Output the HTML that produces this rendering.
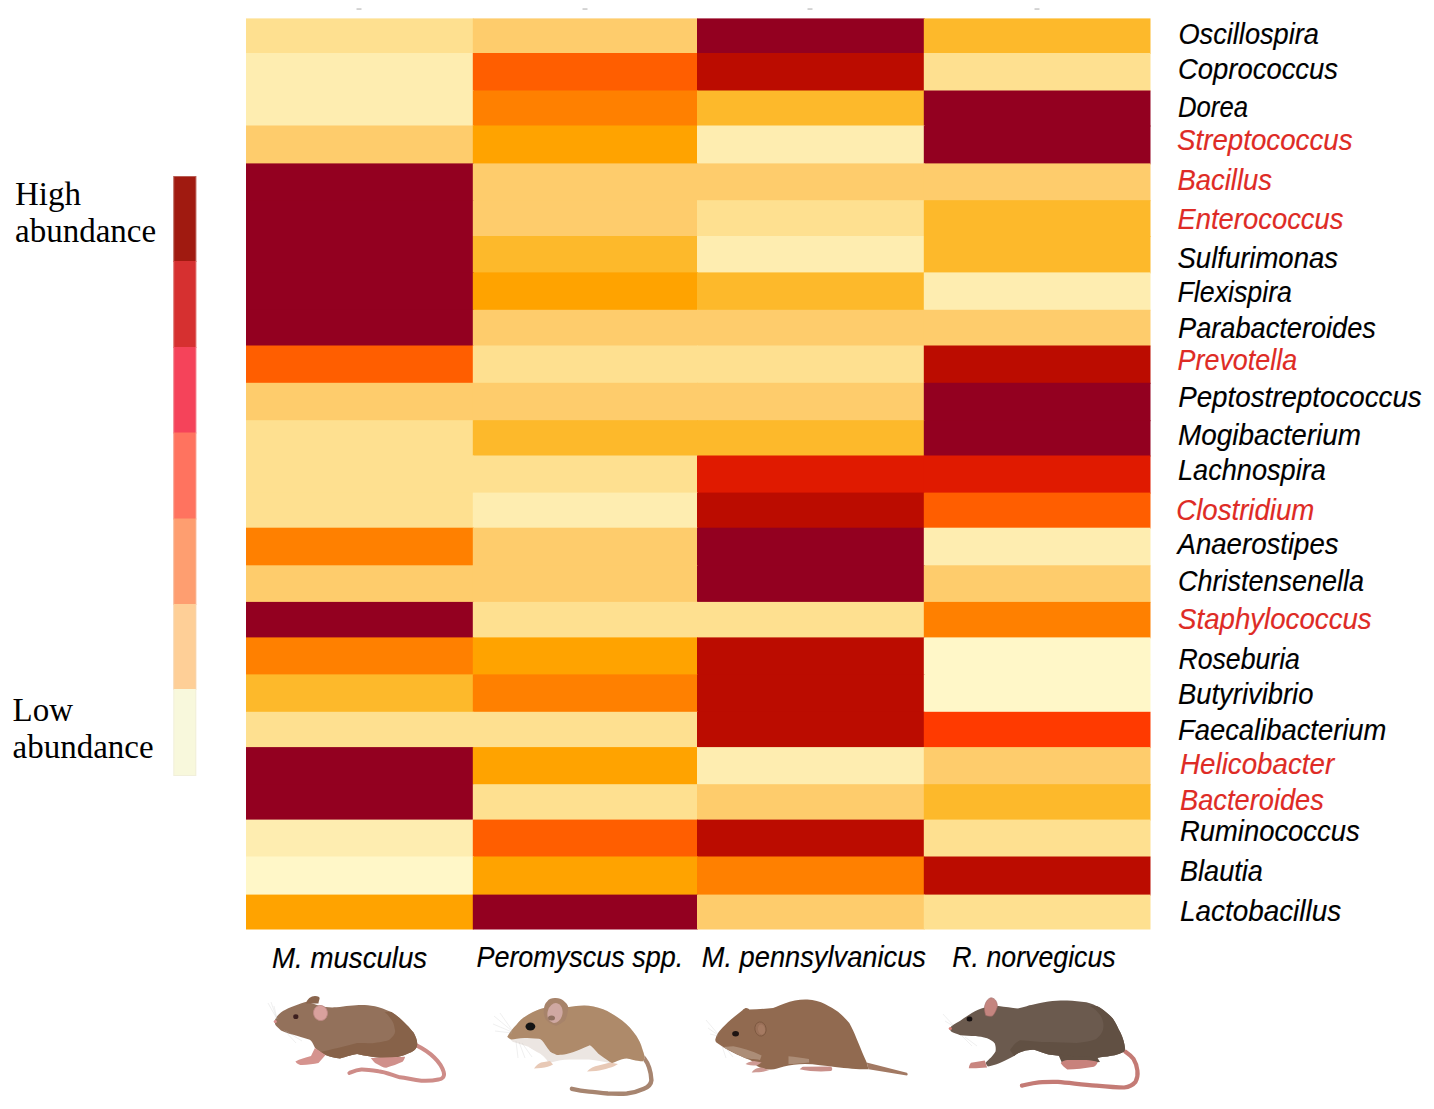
<!DOCTYPE html>
<html><head><meta charset="utf-8"><style>
html,body{margin:0;padding:0;background:#fff;}
body{width:1434px;height:1109px;overflow:hidden;}
svg{display:block;}
.lb{font-family:"Liberation Sans",sans-serif;font-style:italic;font-size:28.6px;stroke-width:0.15px;}
.lg{font-family:"Liberation Serif",serif;font-size:33px;fill:#000;}
</style></head><body>
<svg width="1434" height="1109" viewBox="0 0 1434 1109">
<rect width="1434" height="1109" fill="#fff"/>
<rect x="246" y="18.4" width="227.80" height="35.60" fill="#FEE090"/>
<rect x="472.8" y="18.4" width="225.20" height="35.60" fill="#FECC6C"/>
<rect x="697" y="18.4" width="227.80" height="35.60" fill="#930020"/>
<rect x="923.8" y="18.4" width="226.70" height="35.60" fill="#FDB92B"/>
<rect x="246" y="53" width="227.80" height="38.50" fill="#FEEDB0"/>
<rect x="472.8" y="53" width="225.20" height="38.50" fill="#FF5E00"/>
<rect x="697" y="53" width="227.80" height="38.50" fill="#BB0C00"/>
<rect x="923.8" y="53" width="226.70" height="38.50" fill="#FEE090"/>
<rect x="246" y="90.5" width="227.80" height="36.00" fill="#FEEDB0"/>
<rect x="472.8" y="90.5" width="225.20" height="36.00" fill="#FF8000"/>
<rect x="697" y="90.5" width="227.80" height="36.00" fill="#FDB92B"/>
<rect x="923.8" y="90.5" width="226.70" height="36.00" fill="#930020"/>
<rect x="246" y="125.5" width="227.80" height="38.90" fill="#FECC6C"/>
<rect x="472.8" y="125.5" width="225.20" height="38.90" fill="#FFA300"/>
<rect x="697" y="125.5" width="227.80" height="38.90" fill="#FEEDB0"/>
<rect x="923.8" y="125.5" width="226.70" height="38.90" fill="#930020"/>
<rect x="246" y="163.4" width="227.80" height="37.80" fill="#930020"/>
<rect x="472.8" y="163.4" width="225.20" height="37.80" fill="#FECC6C"/>
<rect x="697" y="163.4" width="227.80" height="37.80" fill="#FECC6C"/>
<rect x="923.8" y="163.4" width="226.70" height="37.80" fill="#FECC6C"/>
<rect x="246" y="200.2" width="227.80" height="36.80" fill="#930020"/>
<rect x="472.8" y="200.2" width="225.20" height="36.80" fill="#FECC6C"/>
<rect x="697" y="200.2" width="227.80" height="36.80" fill="#FEE090"/>
<rect x="923.8" y="200.2" width="226.70" height="36.80" fill="#FDB92B"/>
<rect x="246" y="236" width="227.80" height="37.40" fill="#930020"/>
<rect x="472.8" y="236" width="225.20" height="37.40" fill="#FDB92B"/>
<rect x="697" y="236" width="227.80" height="37.40" fill="#FEEDB0"/>
<rect x="923.8" y="236" width="226.70" height="37.40" fill="#FDB92B"/>
<rect x="246" y="272.4" width="227.80" height="38.40" fill="#930020"/>
<rect x="472.8" y="272.4" width="225.20" height="38.40" fill="#FFA300"/>
<rect x="697" y="272.4" width="227.80" height="38.40" fill="#FDB92B"/>
<rect x="923.8" y="272.4" width="226.70" height="38.40" fill="#FEEDB0"/>
<rect x="246" y="309.8" width="227.80" height="36.70" fill="#930020"/>
<rect x="472.8" y="309.8" width="225.20" height="36.70" fill="#FECC6C"/>
<rect x="697" y="309.8" width="227.80" height="36.70" fill="#FECC6C"/>
<rect x="923.8" y="309.8" width="226.70" height="36.70" fill="#FECC6C"/>
<rect x="246" y="345.5" width="227.80" height="38.30" fill="#FF5E00"/>
<rect x="472.8" y="345.5" width="225.20" height="38.30" fill="#FEE090"/>
<rect x="697" y="345.5" width="227.80" height="38.30" fill="#FEE090"/>
<rect x="923.8" y="345.5" width="226.70" height="38.30" fill="#BB0C00"/>
<rect x="246" y="382.8" width="227.80" height="38.40" fill="#FECC6C"/>
<rect x="472.8" y="382.8" width="225.20" height="38.40" fill="#FECC6C"/>
<rect x="697" y="382.8" width="227.80" height="38.40" fill="#FECC6C"/>
<rect x="923.8" y="382.8" width="226.70" height="38.40" fill="#930020"/>
<rect x="246" y="420.2" width="227.80" height="36.30" fill="#FEE090"/>
<rect x="472.8" y="420.2" width="225.20" height="36.30" fill="#FDB92B"/>
<rect x="697" y="420.2" width="227.80" height="36.30" fill="#FDB92B"/>
<rect x="923.8" y="420.2" width="226.70" height="36.30" fill="#930020"/>
<rect x="246" y="455.5" width="227.80" height="38.10" fill="#FEE090"/>
<rect x="472.8" y="455.5" width="225.20" height="38.10" fill="#FEE090"/>
<rect x="697" y="455.5" width="227.80" height="38.10" fill="#E01A00"/>
<rect x="923.8" y="455.5" width="226.70" height="38.10" fill="#E01A00"/>
<rect x="246" y="492.6" width="227.80" height="36.10" fill="#FEE090"/>
<rect x="472.8" y="492.6" width="225.20" height="36.10" fill="#FEEDB0"/>
<rect x="697" y="492.6" width="227.80" height="36.10" fill="#BB0C00"/>
<rect x="923.8" y="492.6" width="226.70" height="36.10" fill="#FF5E00"/>
<rect x="246" y="527.7" width="227.80" height="38.60" fill="#FF8000"/>
<rect x="472.8" y="527.7" width="225.20" height="38.60" fill="#FECC6C"/>
<rect x="697" y="527.7" width="227.80" height="38.60" fill="#930020"/>
<rect x="923.8" y="527.7" width="226.70" height="38.60" fill="#FEEDB0"/>
<rect x="246" y="565.3" width="227.80" height="37.60" fill="#FECC6C"/>
<rect x="472.8" y="565.3" width="225.20" height="37.60" fill="#FECC6C"/>
<rect x="697" y="565.3" width="227.80" height="37.60" fill="#930020"/>
<rect x="923.8" y="565.3" width="226.70" height="37.60" fill="#FECC6C"/>
<rect x="246" y="601.9" width="227.80" height="36.50" fill="#930020"/>
<rect x="472.8" y="601.9" width="225.20" height="36.50" fill="#FEE090"/>
<rect x="697" y="601.9" width="227.80" height="36.50" fill="#FEE090"/>
<rect x="923.8" y="601.9" width="226.70" height="36.50" fill="#FF8000"/>
<rect x="246" y="637.4" width="227.80" height="38.00" fill="#FF8000"/>
<rect x="472.8" y="637.4" width="225.20" height="38.00" fill="#FFA300"/>
<rect x="697" y="637.4" width="227.80" height="38.00" fill="#BB0C00"/>
<rect x="923.8" y="637.4" width="226.70" height="38.00" fill="#FFF7C8"/>
<rect x="246" y="674.4" width="227.80" height="38.40" fill="#FDB92B"/>
<rect x="472.8" y="674.4" width="225.20" height="38.40" fill="#FF8000"/>
<rect x="697" y="674.4" width="227.80" height="38.40" fill="#BB0C00"/>
<rect x="923.8" y="674.4" width="226.70" height="38.40" fill="#FFF7C8"/>
<rect x="246" y="711.8" width="227.80" height="36.30" fill="#FEE090"/>
<rect x="472.8" y="711.8" width="225.20" height="36.30" fill="#FEE090"/>
<rect x="697" y="711.8" width="227.80" height="36.30" fill="#BB0C00"/>
<rect x="923.8" y="711.8" width="226.70" height="36.30" fill="#FF3A00"/>
<rect x="246" y="747.1" width="227.80" height="38.10" fill="#930020"/>
<rect x="472.8" y="747.1" width="225.20" height="38.10" fill="#FFA300"/>
<rect x="697" y="747.1" width="227.80" height="38.10" fill="#FEEDB0"/>
<rect x="923.8" y="747.1" width="226.70" height="38.10" fill="#FECC6C"/>
<rect x="246" y="784.2" width="227.80" height="36.40" fill="#930020"/>
<rect x="472.8" y="784.2" width="225.20" height="36.40" fill="#FEE090"/>
<rect x="697" y="784.2" width="227.80" height="36.40" fill="#FECC6C"/>
<rect x="923.8" y="784.2" width="226.70" height="36.40" fill="#FDB92B"/>
<rect x="246" y="819.6" width="227.80" height="37.90" fill="#FEEDB0"/>
<rect x="472.8" y="819.6" width="225.20" height="37.90" fill="#FF5E00"/>
<rect x="697" y="819.6" width="227.80" height="37.90" fill="#BB0C00"/>
<rect x="923.8" y="819.6" width="226.70" height="37.90" fill="#FEE090"/>
<rect x="246" y="856.5" width="227.80" height="39.10" fill="#FFF7C8"/>
<rect x="472.8" y="856.5" width="225.20" height="39.10" fill="#FFA300"/>
<rect x="697" y="856.5" width="227.80" height="39.10" fill="#FF8000"/>
<rect x="923.8" y="856.5" width="226.70" height="39.10" fill="#BB0C00"/>
<rect x="246" y="894.6" width="227.80" height="34.90" fill="#FFA300"/>
<rect x="472.8" y="894.6" width="225.20" height="34.90" fill="#930020"/>
<rect x="697" y="894.6" width="227.80" height="34.90" fill="#FECC6C"/>
<rect x="923.8" y="894.6" width="226.70" height="34.90" fill="#FEE090"/>
<rect x="356.5" y="8.3" width="5" height="1.5" fill="#c8c8c8"/>
<rect x="582.5" y="8.3" width="5" height="1.5" fill="#c8c8c8"/>
<rect x="807.5" y="8.3" width="5" height="1.5" fill="#c8c8c8"/>
<rect x="1034.5" y="8.3" width="5" height="1.5" fill="#c8c8c8"/>
<text class="lb" x="1178.4" y="43.5" fill="#000" stroke="#000" textLength="140.6" lengthAdjust="spacingAndGlyphs">Oscillospira</text>
<text class="lb" x="1178" y="79.0" fill="#000" stroke="#000" textLength="160.0" lengthAdjust="spacingAndGlyphs">Coprococcus</text>
<text class="lb" x="1178" y="116.5" fill="#000" stroke="#000" textLength="70.0" lengthAdjust="spacingAndGlyphs">Dorea</text>
<text class="lb" x="1177" y="149.8" fill="#DE2B25" stroke="#DE2B25" textLength="175.6" lengthAdjust="spacingAndGlyphs">Streptococcus</text>
<text class="lb" x="1177.5" y="189.9" fill="#DE2B25" stroke="#DE2B25" textLength="94.5" lengthAdjust="spacingAndGlyphs">Bacillus</text>
<text class="lb" x="1177.5" y="228.5" fill="#DE2B25" stroke="#DE2B25" textLength="166.0" lengthAdjust="spacingAndGlyphs">Enterococcus</text>
<text class="lb" x="1177.5" y="268.3" fill="#000" stroke="#000" textLength="160.5" lengthAdjust="spacingAndGlyphs">Sulfurimonas</text>
<text class="lb" x="1177.5" y="301.7" fill="#000" stroke="#000" textLength="114.5" lengthAdjust="spacingAndGlyphs">Flexispira</text>
<text class="lb" x="1178" y="337.8" fill="#000" stroke="#000" textLength="197.9" lengthAdjust="spacingAndGlyphs">Parabacteroides</text>
<text class="lb" x="1177.5" y="370.2" fill="#DE2B25" stroke="#DE2B25" textLength="119.7" lengthAdjust="spacingAndGlyphs">Prevotella</text>
<text class="lb" x="1178.2" y="406.5" fill="#000" stroke="#000" textLength="243.5" lengthAdjust="spacingAndGlyphs">Peptostreptococcus</text>
<text class="lb" x="1178" y="444.7" fill="#000" stroke="#000" textLength="183.0" lengthAdjust="spacingAndGlyphs">Mogibacterium</text>
<text class="lb" x="1178" y="480.1" fill="#000" stroke="#000" textLength="147.8" lengthAdjust="spacingAndGlyphs">Lachnospira</text>
<text class="lb" x="1176.2" y="519.7" fill="#DE2B25" stroke="#DE2B25" textLength="138.2" lengthAdjust="spacingAndGlyphs">Clostridium</text>
<text class="lb" x="1177.5" y="554.1" fill="#000" stroke="#000" textLength="161.1" lengthAdjust="spacingAndGlyphs">Anaerostipes</text>
<text class="lb" x="1178" y="591.3" fill="#000" stroke="#000" textLength="186.0" lengthAdjust="spacingAndGlyphs">Christensenella</text>
<text class="lb" x="1178" y="628.5" fill="#DE2B25" stroke="#DE2B25" textLength="193.7" lengthAdjust="spacingAndGlyphs">Staphylococcus</text>
<text class="lb" x="1178.5" y="668.7" fill="#000" stroke="#000" textLength="121.4" lengthAdjust="spacingAndGlyphs">Roseburia</text>
<text class="lb" x="1178" y="704.4" fill="#000" stroke="#000" textLength="135.4" lengthAdjust="spacingAndGlyphs">Butyrivibrio</text>
<text class="lb" x="1178" y="739.8" fill="#000" stroke="#000" textLength="208.4" lengthAdjust="spacingAndGlyphs">Faecalibacterium</text>
<text class="lb" x="1180" y="774.2" fill="#DE2B25" stroke="#DE2B25" textLength="154.2" lengthAdjust="spacingAndGlyphs">Helicobacter</text>
<text class="lb" x="1180" y="809.5" fill="#DE2B25" stroke="#DE2B25" textLength="143.9" lengthAdjust="spacingAndGlyphs">Bacteroides</text>
<text class="lb" x="1180" y="841.0" fill="#000" stroke="#000" textLength="179.7" lengthAdjust="spacingAndGlyphs">Ruminococcus</text>
<text class="lb" x="1180" y="881.1" fill="#000" stroke="#000" textLength="82.8" lengthAdjust="spacingAndGlyphs">Blautia</text>
<text class="lb" x="1180" y="921.3" fill="#000" stroke="#000" textLength="161.1" lengthAdjust="spacingAndGlyphs">Lactobacillus</text>
<text class="lb" x="272" y="967.5" fill="#000" stroke="#000" textLength="155.2" lengthAdjust="spacingAndGlyphs">M. musculus</text>
<text class="lb" x="476.4" y="967.1" fill="#000" stroke="#000" textLength="206.9" lengthAdjust="spacingAndGlyphs">Peromyscus spp.</text>
<text class="lb" x="701.7" y="967.3" fill="#000" stroke="#000" textLength="224.3" lengthAdjust="spacingAndGlyphs">M. pennsylvanicus</text>
<text class="lb" x="952.3" y="967.2" fill="#000" stroke="#000" textLength="163.4" lengthAdjust="spacingAndGlyphs">R. norvegicus</text>
<rect x="173.3" y="176" width="23" height="86.00" fill="#A01A10"/>
<rect x="173.3" y="261" width="23" height="87.00" fill="#D63030"/>
<rect x="173.3" y="347" width="23" height="86.50" fill="#F5435A"/>
<rect x="173.3" y="432.5" width="23" height="87.00" fill="#FF735F"/>
<rect x="173.3" y="518.5" width="23" height="86.50" fill="#FE9E70"/>
<rect x="173.3" y="604" width="23" height="86.00" fill="#FECF97"/>
<rect x="173.3" y="689" width="23" height="87.00" fill="#F8F8DC"/>
<rect x="173.8" y="176.5" width="22" height="599" fill="none" stroke="#e4dfd6" stroke-width="1" opacity="0.35"/>
<text class="lg" x="15" y="204.9">High</text>
<text class="lg" x="15" y="241.8">abundance</text>
<text class="lg" x="12.5" y="721">Low</text>
<text class="lg" x="12.5" y="758.3">abundance</text>
<g id="m1">
<path d="M417,1045.6 C430,1052 441,1062 443.7,1072.1 C445,1077 442,1079 438.5,1079.5 C432,1081 428,1081 421.4,1080.7 C413,1080 407,1078 400,1077.3 C392,1075 385,1072 378.6,1071.3 C370,1070 366,1069.5 361.4,1069.6 C356,1070 352,1072 349.4,1073" fill="none" stroke="#CE8C88" stroke-width="4" stroke-linecap="round"/>
<path d="M274.5,1021 C276,1017 279,1013.5 283,1011 C289,1007.5 300,1003.5 307.7,1001.5 C318,1006 325,1008 336.5,1007.3 C345,1006 355,1005 361.4,1004.9 C370,1005 379,1006 391.4,1012.1 C400,1017 409,1027 413.7,1032.7 C416,1037 418,1042 417,1046 C416,1050 412,1052 408.6,1053.3 C403,1056 395,1058 387.1,1058.4 C378,1058 365,1056 357.1,1054.1 C350,1055 344,1058 340,1058.4 C335,1058 330,1057 325.7,1055 C320,1052 317,1050 314.9,1047.7 C313,1044 312,1041 309.8,1039.8 C303,1037.5 298,1036 293.3,1034.7 C287,1033 284,1032 281,1030.4 C278,1028 276,1026 275.2,1024.6 Z" fill="#93715B"/>
<path d="M320,1052 C330,1050 345,1046 357.1,1043 C365,1043 372,1043.5 374.3,1043 C382,1042 388,1041 389.7,1039.6 C394,1036 396,1033 394.8,1029.3 C394,1024 393,1022 391.4,1019.8 C388,1015 386,1013 384.6,1012.1 L391.4,1012.1 C400,1017 409,1027 413.7,1032.7 C416,1037 418,1042 417,1046 C416,1050 412,1052 408.6,1053.3 C403,1056 395,1058 387.1,1058.4 C378,1058 365,1056 357.1,1054.1 C350,1055 344,1058 340,1058.4 C333,1058 326,1056 320,1052 Z" fill="#876249"/>
<path d="M306,1003.5 C307,999 311,996 315,996 C318,996 320,997 319.6,998.5 C319,1001 318.5,1002 318.5,1003.5 Z" fill="#8A654D"/>
<path d="M314.9,1048 L311,1056 C305,1058 300,1059 295.4,1061.4 C297,1064 300,1065 302,1065 C308,1064.5 314,1064 318.5,1062.9 L325.5,1055 Z" fill="#D5938E"/>
<path d="M370.8,1058 C373,1061 375,1063 376,1063.6 C380,1066 384,1068 386.3,1067.8 C392,1066 398,1064 402.6,1061.8 C404,1060 405,1058 405.1,1056.7 Z" fill="#D0908B"/>
<ellipse cx="320.5" cy="1013" rx="7" ry="7.6" transform="rotate(-10 320.5 1013)" fill="#D9A19D" stroke="#BE8883" stroke-width="0.8"/>
<ellipse cx="295.8" cy="1016.7" rx="2.6" ry="2.4" fill="#3D1F1F"/>
<circle cx="275.3" cy="1021.5" r="1.6" fill="#D99090"/>
</g>
<g id="m2">
<path d="M644,1058 C648,1063 651,1072 651.4,1080.2 C651,1085 648,1087 643.9,1088.8 C637,1092 632,1093 626.8,1093.5 C620,1094 613,1093.6 607.9,1093.5 C600,1093 595,1092 588.9,1091.6 C582,1091 577,1090 571.9,1088.8" fill="none" stroke="#A78570" stroke-width="4.4" stroke-linecap="round"/>
<path d="M507.3,1036.7 C510,1032 513,1028 516.2,1024.9 C520,1020 524,1017 528.4,1014.4 C534,1011 539,1009 543.8,1007.9 L569,1007 C574,1006 578,1005.5 584.2,1005.4 C590,1005.5 597,1007 603.1,1009.2 C610,1012 616,1016 622.1,1020.6 C628,1025 632,1030 636.3,1035.7 C639,1040 641,1044 642,1048 C643,1051 644.5,1055 644.8,1057.5 C644,1060 643.5,1061 642.9,1061.3 C636,1061 628,1058 623,1057.5 C618,1060 614,1062.5 611.7,1063.2 C605,1062 597,1060 588.9,1059.4 C580,1059.4 575,1059.4 570,1059.4 C562,1059.5 556,1061 548.7,1063 C546,1058 542,1054 536.5,1051.7 C532,1049 530,1048 528.4,1046.8 C522,1044.5 517,1043 513,1042 C511,1040 508.5,1038.5 507.3,1036.7 Z" fill="#ECE6E2"/>
<path d="M507.3,1036.7 C510,1032 513,1028 516.2,1024.9 C520,1020 524,1017 528.4,1014.4 C534,1011 539,1009 543.8,1007.9 L569,1007 C574,1006 578,1005.5 584.2,1005.4 C590,1005.5 597,1007 603.1,1009.2 C610,1012 616,1016 622.1,1020.6 C628,1025 632,1030 636.3,1035.7 C639,1040 641,1044 642,1048 C643,1051 644.5,1055 644.8,1057.5 C644,1060 643.5,1061 642.9,1061.3 C636,1061 630,1058.5 626.8,1058.4 C620,1059 615,1062 611.7,1063.2 C606,1059 601,1056 598.4,1053.7 C595,1050 592,1046.5 589.9,1045.2 C583,1048 575,1052 566.6,1054.1 C562,1055 559,1055 556.8,1054.9 C553,1053 551,1052.5 550.3,1051.7 C548,1049 547,1047 545.5,1045.2 C543,1041 541,1039 539,1038.7 C533,1038 528,1038 524.4,1037.9 C519,1038 514,1039 511.4,1039.5 C509,1038.5 508,1037.5 507.3,1036.7 Z" fill="#AE8A6A"/>
<path d="M543.8,1010.3 C544,1006 545,1003 547.1,1001.4 C549,999 552,998 555.2,998.1 C559,998 561.5,999 563.3,1000.6 C566,1003 568,1005 568.2,1007 C568,1012 567,1017 564.9,1020.8 C562,1023 559,1025 556,1025.7 C551,1024 548,1022 545.5,1019.2 C544,1016 543.5,1013 543.8,1010.3 Z" fill="#A7836A"/>
<ellipse cx="555" cy="1013" rx="7.5" ry="10" transform="rotate(12 555 1013)" fill="#CFA8A2"/>
<ellipse cx="551.5" cy="1018" rx="3.5" ry="2.5" fill="#8F7060"/>
<ellipse cx="530.4" cy="1026.5" rx="4.9" ry="4" fill="#141414"/>
<path d="M534,1068.5 C536,1065.5 538.5,1063.5 541,1062.5 L550,1061 L553,1064.5 C550,1066.5 546,1067.5 541,1068 Z" fill="#E8C9B6"/>
<path d="M587,1071.5 C590,1068 594,1066 598.4,1065.5 L610,1062.5 L618,1064 C614,1067 605,1069.5 596,1071 Z" fill="#E8C9B6"/>
</g>
<g id="m3">
<path d="M866.7,1062.4 L906.8,1072.8 C908,1073.5 908,1075 906.8,1075.4 L868.5,1069.3 Z" fill="#A27963"/>
<path d="M715.3,1039.4 C716.5,1035 718,1033 719.5,1031 C724,1026 727,1023 731,1019.5 C735,1016 739,1013 742.5,1010.3 C743.5,1009 744,1008.5 744.8,1008.4 C746.5,1007.5 748.5,1008.5 749.4,1009.6 C757,1009.3 766,1008.7 773.1,1008 C778,1006 781,1004.5 784.6,1003.4 C792,1000.5 800,999.3 807.4,999.6 C814,1000 820,1001.5 824.9,1004 C830,1006.5 834,1009 838,1011.8 C842,1015 846,1019 849.3,1023.1 C852,1028 854.5,1033 856.3,1038 C858.5,1043 860.5,1048 862.4,1052.8 C864,1056.5 865.5,1060 866.7,1062.4 L868.5,1069.3 C860,1069.5 848,1068.5 835,1067 C825,1066 815,1064 805,1064 C797,1064 790,1065 784,1066.5 C779,1068 775,1069.5 771,1069.5 C765,1069.5 760,1068 757,1066 C755,1063.5 753,1061.5 750,1060 C744,1057.5 738,1055 733,1052.5 C727,1049.5 721,1046 716.4,1042.5 C715.5,1041.5 715.3,1040.5 715.3,1039.4 Z" fill="#916A50"/>
<path d="M733.3,1046.3 C742,1048 752,1051 761.6,1055.5 L760,1060 C754,1059 748,1059 746.3,1058.6 C742,1056.5 738,1055 734.8,1053.2 C730,1050.5 726,1049 723.3,1047.1 Z" fill="#AC8D77"/>
<path d="M788.5,1056.3 C795,1057 803,1058 809,1059 L809.2,1062.4 C803,1063 795,1064 788.5,1064 Z" fill="#AC8D77"/>
<ellipse cx="760.5" cy="1029" rx="5.6" ry="7.1" transform="rotate(-10 760.5 1029)" fill="#9A7058" stroke="#7C573F" stroke-width="0.9"/>
<ellipse cx="761.5" cy="1029.5" rx="3.5" ry="5" transform="rotate(-10 761.5 1029.5)" fill="#A57A62"/>
<ellipse cx="735.6" cy="1033.7" rx="3.4" ry="2.7" fill="#1E1412"/>
<path d="M745.5,1064 C749,1061.5 752,1061 754,1060.9 L761.6,1062.4 L757,1065.5 C752,1065.5 748,1065 745.5,1064 Z" fill="#CE9A94"/>
<path d="M751.7,1072.4 C754,1069 757,1068 761.6,1067.5 L769.3,1070.1 C765,1072 758,1072.5 751.7,1072.4 Z" fill="#CE9A94"/>
<path d="M799.6,1069.3 C801,1068 802,1067 803.1,1066.7 L831,1066.5 C832.7,1068 832.7,1070 831,1071.1 C820,1072 810,1071.5 799.6,1069.3 Z" fill="#C9908A"/>
</g>
<g id="m4">
<path d="M1125.1,1051.6 C1130,1055 1132,1057 1133.6,1059.1 C1136,1063 1137,1067 1137.4,1070.5 C1138,1075 1137,1079 1135.5,1081.9 C1133,1085 1129,1087 1124.2,1087.5 C1115,1087.5 1105,1086.5 1095.8,1085.6 C1083,1084.5 1070,1083 1057.9,1081.9 C1050,1081.5 1045,1082 1038.9,1082.3 C1032,1083 1027,1084.5 1021.9,1085.6" fill="none" stroke="#C47B75" stroke-width="4.2" stroke-linecap="round"/>
<path d="M949.6,1028.3 C952,1025 956,1023 960.3,1020.7 C964,1018 968,1015.5 971.8,1013 C976,1010.5 980,1009 984.8,1007.6 L998.6,1006.1 C1005,1007 1012,1008 1017.8,1008.4 C1022,1008 1026,1006.5 1029.3,1005.3 C1035,1004 1040,1003 1048.4,1001.4 C1055,1000.5 1061,1000.3 1067.3,1000.4 C1074,1000.8 1080,1001.5 1086.3,1002.3 C1091,1003.5 1096,1005.5 1100.5,1008 C1105,1011 1109,1014.5 1112.8,1018.4 C1116,1023 1118,1028 1120.4,1032.6 C1123,1038 1124.5,1043 1125.1,1048.7 L1124.2,1051.6 C1121,1053.5 1118,1054.5 1114.7,1055.3 C1110,1056.2 1105,1056.8 1100.5,1057.2 C1097,1058 1094,1059 1091,1059.1 C1088,1059 1085,1058.5 1081.6,1058.2 C1070,1057 1060,1055.5 1048.4,1054.4 C1043,1053 1038,1051 1034.2,1049.7 C1028,1050 1022,1050 1014,1055.9 C1008,1059 1003,1061.5 998.6,1063.6 C995,1065 991,1066 987.9,1066.6 C986.5,1065 986,1064 985.6,1062.8 C987,1061 989,1059 991,1057.4 C993,1055 995,1053 995.6,1051.3 C996,1048 995.5,1045.5 994.8,1043.6 C993,1041 990,1039.5 987.1,1038.3 C983,1037 979,1036.5 975.7,1036 C970,1035.8 965,1035.7 960.3,1035.2 C957,1034 954,1033 951.9,1032.1 C950.5,1031 949.8,1029.5 949.6,1028.3 Z" fill="#6B5A4E"/>
<path d="M1020,1040.2 C1030,1041 1040,1042 1048.4,1042.1 C1058,1042.5 1068,1043 1076.8,1043 C1085,1042 1091,1041 1095.8,1039.2 C1100,1036 1103,1032 1103.3,1027.9 C1104,1023 1102.5,1019 1100.5,1015.6 C1098,1012 1095,1009 1090,1006 C1096,1005.5 1098,1006.5 1100.5,1008 C1105,1011 1109,1014.5 1112.8,1018.4 C1116,1023 1118,1028 1120.4,1032.6 C1123,1038 1124.5,1043 1125.1,1048.7 L1124.2,1051.6 C1121,1053.5 1118,1054.5 1114.7,1055.3 C1110,1056.2 1105,1056.8 1100.5,1057.2 C1097,1058 1094,1059 1091,1059.1 C1088,1059 1085,1058.5 1081.6,1058.2 C1070,1057 1060,1055.5 1048.4,1054.4 C1043,1053 1038,1051 1034.2,1049.7 C1028,1050 1022,1050 1014,1055.9 L1010,1050 C1013,1046 1016,1042 1020,1040.2 Z" fill="#615043"/>
<path d="M985.6,1015.3 C984.5,1011 984,1008 984.8,1005.3 C986,1001 988,998.5 991,997.7 C993.5,998 995.5,999.5 996.3,1001.5 C997.5,1004 997.5,1006 997.1,1007.6 C996,1011 994.5,1014 992.5,1016 C990,1016.5 987.5,1016.2 985.6,1015.3 Z" fill="#C4857F" stroke="#A06A66" stroke-width="0.6"/>
<ellipse cx="969.5" cy="1019.1" rx="2.9" ry="2.5" fill="#161010"/>
<circle cx="950.3" cy="1028.5" r="1.6" fill="#D88078"/>
<path d="M968.8,1068.2 C969,1066 970,1064 971,1062.8 L984.8,1060.5 L987.1,1067.4 C980,1068 975,1068.5 968.8,1068.2 Z" fill="#C98680"/>
<path d="M1058,1054 C1066,1056 1080,1057 1097,1057 L1100,1062 C1090,1063 1075,1063.5 1062,1063 Z" fill="#615043"/>
<path d="M1060.7,1062.9 C1063,1061 1065,1060.5 1067.3,1060.1 L1086.3,1060.1 C1090,1060.5 1095,1061 1097.7,1062 C1097,1064.5 1095.5,1066 1093.9,1066.7 C1085,1068 1075,1069.5 1067.3,1069.5 C1064,1067 1062,1065 1060.7,1062.9 Z" fill="#C8827C"/>
</g>
<g stroke="#bdbdbd" stroke-width="0.5" fill="none" opacity="0.45">
<path d="M277,1019 L268,1003 M277,1019 L271,1002 M277,1019 L274,1006"/>
<path d="M284,1030 L296,1043 M286,1031 L302,1041"/>
<path d="M512,1031 L494,1016 M512,1032 L493,1024 M512,1033 L495,1031 M512,1030 L500,1013"/>
<path d="M516,1041 L518,1058 M519,1042 L525,1058 M522,1043 L532,1057"/>
<path d="M718,1034 L706,1020 M718,1035 L708,1028 M718,1036 L710,1034"/>
<path d="M722,1046 L726,1058 M725,1047 L733,1057"/>
<path d="M953,1025 L943,1014 M953,1026 L945,1021"/>
<path d="M962,1036 L972,1046 M965,1037 L977,1046"/>
</g>

</svg>
</body></html>
